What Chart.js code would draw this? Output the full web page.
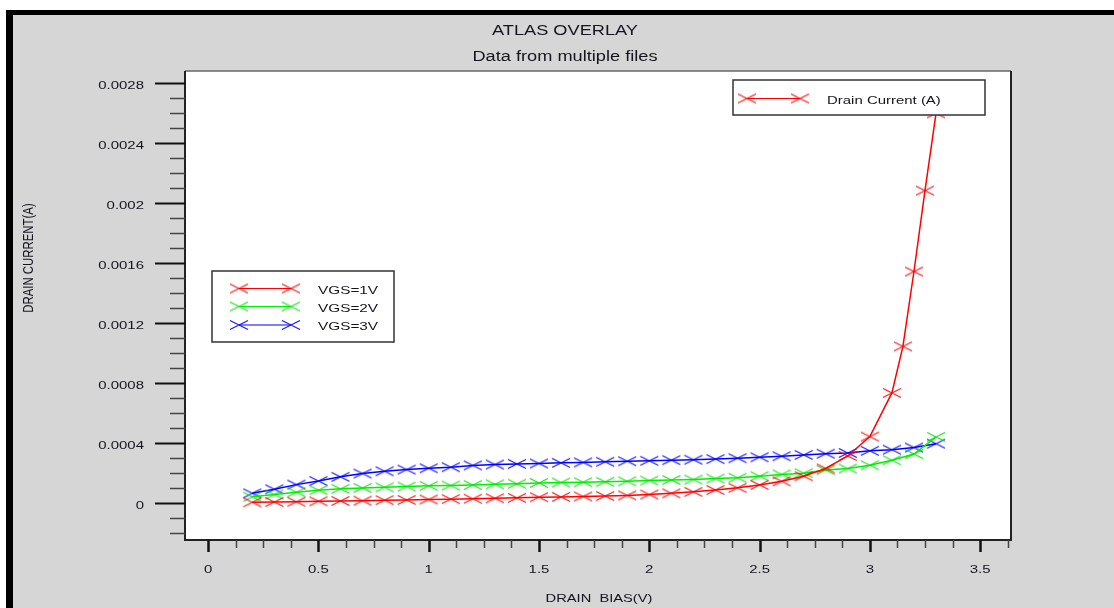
<!DOCTYPE html>
<html>
<head>
<meta charset="utf-8">
<script src="https://cdn.jsdelivr.net/npm/chart.js@4.4.1/dist/chart.umd.min.js"></script>
<style>
  body { margin: 0; background: #fff; }
  #frame { position: absolute; left: 6px; top: 10px; right: 0; bottom: 0; background: #d6d6d6; border-top: 5px solid #000; border-left: 7px solid #000; }
  #myChart { position: absolute; left: 0; top: 0; }
</style>
</head>
<body>
<div id="frame"></div>
<canvas id="myChart" width="1114" height="608"></canvas>
<script>
// drain bias points (V)
const biasV = [0.2, 0.3, 0.4, 0.5, 0.6, 0.7, 0.8, 0.9, 1.0, 1.1, 1.2, 1.3, 1.4, 1.5, 1.6, 1.7,
    1.8, 1.9, 2.0, 2.1, 2.2, 2.3, 2.4, 2.5, 2.6, 2.7, 2.8, 2.9, 3.0, 3.1, 3.2, 3.3];
const biasVgs1 = [0.2, 0.3, 0.4, 0.5, 0.6, 0.7, 0.8, 0.9, 1.0, 1.1, 1.2, 1.3, 1.4, 1.5, 1.6, 1.7,
    1.8, 1.9, 2.0, 2.1, 2.2, 2.3, 2.4, 2.5, 2.6, 2.7, 2.8, 2.9, 3.0, 3.1, 3.15, 3.2, 3.25, 3.3];

// drain current (A)
const vgs1 = [0.000006, 0.000008, 0.000010, 0.000013, 0.000015, 0.000017, 0.000020, 0.000022,
    0.000025, 0.000027, 0.000030, 0.000033, 0.000036, 0.000040, 0.000042, 0.000045, 0.000048,
    0.000052, 0.000058, 0.000066, 0.000076, 0.000088, 0.000103, 0.000122, 0.000146, 0.000180,
    0.000232, 0.000315, 0.000444, 0.000735, 0.001045, 0.001544, 0.002083, 0.002598];
const vgs2 = [0.000043, 0.000058, 0.000073, 0.000087, 0.000096, 0.000102, 0.000106, 0.000111,
    0.000116, 0.000118, 0.000121, 0.000126, 0.000130, 0.000135, 0.000138, 0.000140, 0.000143,
    0.000146, 0.000151, 0.000155, 0.000158, 0.000164, 0.000170, 0.000180, 0.000192, 0.000200,
    0.000221, 0.000231, 0.000253, 0.000286, 0.000328, 0.000442];
const vgs3 = [0.000066, 0.000093, 0.000124, 0.000148, 0.000176, 0.000198, 0.000213, 0.000224,
    0.000233, 0.000240, 0.000252, 0.000258, 0.000262, 0.000265, 0.000269, 0.000272, 0.000276,
    0.000280, 0.000283, 0.000287, 0.000290, 0.000294, 0.000300, 0.000306, 0.000313, 0.000322,
    0.000330, 0.000335, 0.000349, 0.000357, 0.000371, 0.000397];

const seriesNames = ['VGS=1V', 'VGS=2V', 'VGS=3V'];
const seriesColors = ['#ff0000', '#00ee00', '#0000ff'];
const markColors = ['rgba(255,0,0,0.9)', 'rgba(0,230,0,0.9)', 'rgba(0,0,255,0.9)'];

const FONT = '"Liberation Sans", Arial, sans-serif';
const SX = 1.3; // the reference is stretched sideways

function makeX(color) {
    const c = document.createElement('canvas');
    c.width = 20;
    c.height = 12;
    const g = c.getContext('2d');
    g.strokeStyle = color;
    g.lineWidth = 1.2;
    g.beginPath();
    g.moveTo(1, 1.5); g.lineTo(19, 10.5);
    g.moveTo(1, 10.5); g.lineTo(19, 1.5);
    g.stroke();
    return c;
}
const marks = markColors.map(makeX);

function sText(ctx, txt, x, y, align, size, rot) {
    ctx.save();
    ctx.translate(x, y);
    ctx.scale(SX, 1);
    if (rot) ctx.rotate(rot);
    ctx.font = size + 'px ' + FONT;
    ctx.textAlign = align;
    ctx.textBaseline = 'middle';
    ctx.fillStyle = '#15151f';
    ctx.fillText(txt, 0, 0);
    ctx.restore();
}

function fmt(v) {
    if (Math.abs(v) < 1e-12) return '0';
    return String(+v.toFixed(4));
}

const atlasPlugin = {
    id: 'atlas',
    beforeDraw(chart) {
        const a = chart.chartArea;
        const ctx = chart.ctx;
        ctx.save();
        ctx.fillStyle = '#fff';
        ctx.fillRect(a.left, a.top, a.right - a.left, a.bottom - a.top);
        ctx.restore();
    },
    afterDraw(chart) {
        const ctx = chart.ctx;
        const a = chart.chartArea;
        const xs = chart.scales.x;
        const ys = chart.scales.y;

        // frame of the plot
        ctx.save();
        ctx.strokeStyle = '#666';
        ctx.lineWidth = 1.5;
        ctx.beginPath();
        ctx.moveTo(a.left, a.top); ctx.lineTo(a.right, a.top);
        ctx.stroke();
        ctx.strokeStyle = '#222';
        ctx.lineWidth = 2;
        ctx.beginPath();
        ctx.moveTo(a.left, a.top); ctx.lineTo(a.left, a.bottom);
        ctx.lineTo(a.right, a.bottom); ctx.lineTo(a.right, a.top);
        ctx.stroke();

        // y tick marks, every 0.0001
        for (let k = -2; k <= 28; k++) {
            const py = Math.round(ys.getPixelForValue(k * 0.0001)) + 0.5;
            const major = k % 4 === 0;
            ctx.strokeStyle = major ? '#111' : '#444';
            ctx.lineWidth = major ? 2 : 1.5;
            ctx.beginPath();
            ctx.moveTo(a.left - (major ? 30 : 15), py);
            ctx.lineTo(a.left, py);
            ctx.stroke();
        }
        // x tick marks, every 0.125
        for (let k = 0; k <= 29; k++) {
            const px = Math.round(xs.getPixelForValue(k * 0.125)) + 0.5;
            const major = k % 4 === 0;
            ctx.strokeStyle = major ? '#111' : '#444';
            ctx.lineWidth = major ? 2.5 : 1.5;
            ctx.beginPath();
            ctx.moveTo(px, a.bottom);
            ctx.lineTo(px, a.bottom + (major ? 12 : 8));
            ctx.stroke();
        }
        ctx.restore();

        // tick labels
        ys.ticks.forEach(function(t) {
            sText(ctx, fmt(t.value), 144, ys.getPixelForValue(t.value) + 3, 'right', 11.5);
        });
        xs.ticks.forEach(function(t) {
            sText(ctx, fmt(t.value), xs.getPixelForValue(t.value), 570, 'center', 11.5);
        });

        // titles
        sText(ctx, 'ATLAS OVERLAY', 565, 31, 'center', 14);
        sText(ctx, 'Data from multiple files', 565, 57, 'center', 14);
        sText(ctx, 'DRAIN  BIAS(V)', 599, 599, 'center', 11.3);
        sText(ctx, 'DRAIN CURRENT(A)', 29, 258, 'center', 11.4, -Math.PI / 2);

        // legend: Drain Current (A)
        ctx.save();
        ctx.fillStyle = '#fff';
        ctx.strokeStyle = '#333';
        ctx.lineWidth = 1.5;
        ctx.fillRect(733, 80, 252, 35);
        ctx.strokeRect(733, 80, 252, 35);
        ctx.strokeStyle = seriesColors[0];
        ctx.lineWidth = 1.2;
        ctx.beginPath();
        ctx.moveTo(747, 98.5); ctx.lineTo(800, 98.5);
        ctx.stroke();
        ctx.drawImage(marks[0], 737, 92.5);
        ctx.drawImage(marks[0], 790, 92.5);
        ctx.restore();
        sText(ctx, 'Drain Current (A)', 827, 101, 'left', 11.5);

        // legend: VGS series
        ctx.save();
        ctx.fillStyle = '#fff';
        ctx.strokeStyle = '#333';
        ctx.lineWidth = 1.5;
        ctx.fillRect(212, 271, 182, 71);
        ctx.strokeRect(212, 271, 182, 71);
        ctx.restore();
        const rowsY = [288.5, 306.5, 325];
        seriesNames.forEach(function(name, i) {
            ctx.save();
            ctx.strokeStyle = seriesColors[i];
            ctx.lineWidth = 1.2;
            ctx.beginPath();
            ctx.moveTo(239, rowsY[i]); ctx.lineTo(291, rowsY[i]);
            ctx.stroke();
            ctx.drawImage(marks[i], 229, rowsY[i] - 6);
            ctx.drawImage(marks[i], 281, rowsY[i] - 6);
            ctx.restore();
            sText(ctx, name, 318, rowsY[i] + 2, 'left', 11.8);
        });
    }
};

function pts(xv, yv) {
    return xv.map(function(x, i) { return { x: x, y: yv[i] }; });
}

const data = {
    datasets: [
        { label: seriesNames[0], data: pts(biasVgs1, vgs1) },
        { label: seriesNames[1], data: pts(biasV, vgs2) },
        { label: seriesNames[2], data: pts(biasV, vgs3) }
    ].map(function(d, i) {
        d.borderColor = seriesColors[i];
        d.backgroundColor = seriesColors[i];
        d.borderWidth = 1.5;
        d.pointStyle = marks[i];
        d.pointRadius = 6;
        d.tension = 0;
        return d;
    })
};

const config = {
    type: 'line',
    data: data,
    options: {
        responsive: false,
        animation: false,
        layout: { padding: { left: 85, right: 103, top: 71, bottom: 28 } },
        plugins: {
            legend: { display: false },
            tooltip: { enabled: false },
            title: { display: false }
        },
        scales: {
            x: {
                type: 'linear',
                min: -0.105,
                max: 3.64,
                grid: { display: false, drawTicks: false },
                border: { display: false },
                ticks: { display: false, stepSize: 0.5, includeBounds: false },
                afterFit: function(s) { s.height = 40; }
            },
            y: {
                type: 'linear',
                min: -0.000245,
                max: 0.00288,
                grid: { display: false, drawTicks: false },
                border: { display: false },
                ticks: { display: false, stepSize: 0.0004, includeBounds: false },
                afterFit: function(s) { s.width = 100; }
            }
        }
    },
    plugins: [atlasPlugin]
};

const myChart = new Chart(document.getElementById('myChart'), config);
</script>
</body>
</html>
